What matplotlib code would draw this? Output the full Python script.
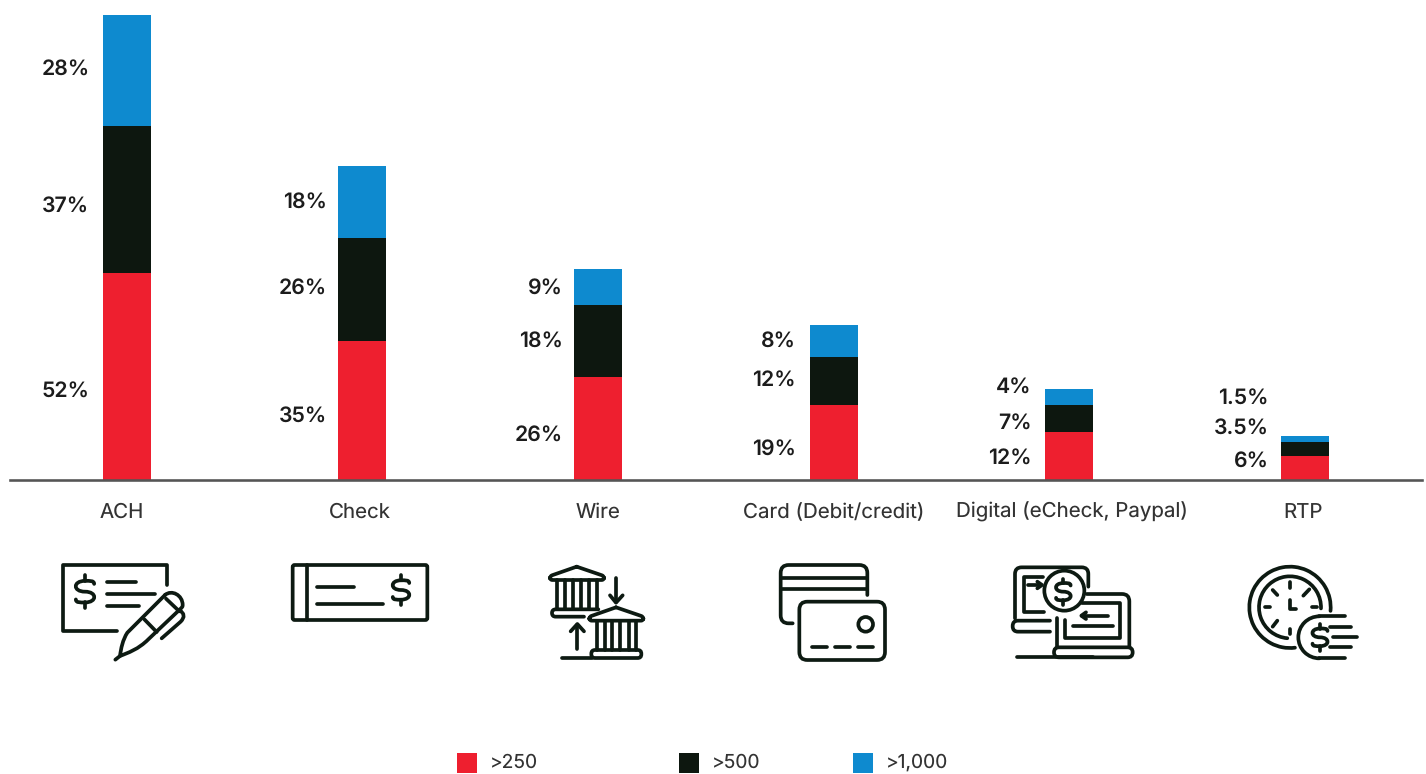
import numpy as np
import matplotlib
matplotlib.use("Agg")
import matplotlib.pyplot as plt
from matplotlib.path import Path
from matplotlib.patches import PathPatch, Circle, Arc, Rectangle, FancyBboxPatch
from matplotlib.transforms import ScaledTranslation

# ---------- data ----------
categories = ["ACH", "Check", "Wire", "Card (Debit/credit)", "Digital (eCheck, Paypal)", "RTP"]
series_names = [">250", ">500", ">1,000"]
vals_250 = [52, 35, 26, 19, 12, 6]
vals_500 = [37, 26, 18, 12, 7, 3.5]
vals_1000 = [28, 18, 9, 8, 4, 1.5]

# ---------- styles / layout ----------
W, H = 1426, 774
COL = ["#ee1f2f", "#0d170f", "#0e8acf"]
INK = "#0d1a12"
TXT = "#333333"
LBL_FONT = "Inter"
PX = 72 / 100
label_px_y = [[391.5, 206.5, 69.5], [416.5, 288.5, 202.5], [435.5, 341.5, 289.5],
              [450.5, 380.5, 341.5], [458.5, 423.5, 387.5], [461.5, 428.5, 398.5]]
label_px_right = [89.5, 327, 562.5, 795.5, 1031.5, 1268.5]
cat_dx_px = [-4.5, -2, 0, 0, 3, -1.5]

plt.rcParams["font.family"] = [LBL_FONT, "DejaVu Sans"]
plt.rcParams["text.hinting"] = "no_hinting"
fig = plt.figure(figsize=(W / 100, H / 100), dpi=100, facecolor="white")

# main axes: baseline at y=480 px, x from 10 to 1422
ax = fig.add_axes([10 / W, 1 - 480 / H, 1412 / W, 480 / H])
SCALE = 3.972
X0 = 126.7
DX = 235.6
ax.set_ylim(0, 480 / SCALE)
ax.set_xlim((10 - X0) / DX, (1422 - X0) / DX)
x = np.arange(len(categories))
BW = 48 / DX
bottom = np.zeros(len(x))
for vals, c in zip([vals_250, vals_500, vals_1000], COL):
    ax.bar(x, vals, BW, bottom=bottom, color=c, linewidth=0, zorder=2)
    bottom = bottom + np.array(vals)
for s in ("top", "left", "right"):
    ax.spines[s].set_visible(False)
ax.spines["bottom"].set_color("#555555")
ax.spines["bottom"].set_linewidth(2.6 * PX)
ax.spines["bottom"].set_zorder(3)
ax.set_yticks([])
ax.set_xticks(x, categories)
ax.tick_params(axis="x", length=0, pad=27.4, labelsize=14.75, labelcolor=TXT)
for lab, d in zip(ax.get_xticklabels(), cat_dx_px):
    lab.set_va("baseline")
    lab.set_transform(lab.get_transform() + ScaledTranslation(d / 100, 0, fig.dpi_scale_trans))

# overlay in pixel coordinates for annotations, icons and legend
ov = fig.add_axes([0, 0, 1, 1], facecolor="none")
ov.set_xlim(0, W)
ov.set_ylim(H, 0)
ov.axis("off")

all_vals = list(zip(vals_250, vals_500, vals_1000))
for vs, ys, xr in zip(all_vals, label_px_y, label_px_right):
    for v, yy in zip(vs, ys):
        ov.text(xr, yy, f"{v}%", ha="right", va="center", fontsize=15.3,
                fontweight="semibold", color="#1c1c1c")

LW = 3.7 * PX


class Icon:
    def __init__(self, ox, oy):
        self.ox, self.oy = ox, oy

    def t(self, p):
        return (self.ox + p[0] / 3, self.oy + p[1] / 3)

    def line(self, *pts, lw=LW):
        xs, ys = zip(*[self.t(p) for p in pts])
        ov.plot(xs, ys, color=INK, lw=lw, solid_capstyle="round",
                solid_joinstyle="round", zorder=5)

    def curve(self, verts, codes, lw=LW):
        pts = [self.t(v) for v in verts]
        ov.add_patch(PathPatch(Path(pts, codes), fill=False, ec=INK, lw=lw,
                               capstyle="round", joinstyle="round", zorder=5))

    def rpath(self, *pts, r=20):
        pts = [np.array(p, float) for p in pts]
        v = [pts[0]]
        c = [Path.MOVETO]
        for a, b, d in zip(pts[:-2], pts[1:-1], pts[2:]):
            u1 = (a - b) / np.linalg.norm(a - b)
            u2 = (d - b) / np.linalg.norm(d - b)
            v += [b + u1 * r, b, b + u2 * r]
            c += [Path.LINETO, Path.CURVE3, Path.CURVE3]
        v.append(pts[-1])
        c.append(Path.LINETO)
        self.curve(v, c)

    def rrect(self, x0, y0, x1, y1, r=15):
        p = self.t((x0, y0))
        ov.add_patch(FancyBboxPatch(p, (x1 - x0) / 3, (y1 - y0) / 3,
                                    boxstyle=f"round,pad=0,rounding_size={r / 3}",
                                    fill=False, ec=INK, lw=LW, zorder=5))

    def circle(self, cx, cy, r):
        ov.add_patch(Circle(self.t((cx, cy)), r / 3, fill=False, ec=INK, lw=LW, zorder=6))

    def arc(self, cx, cy, r, a0, a1):
        ov.add_patch(Arc(self.t((cx, cy)), 2 * r / 3, 2 * r / 3, theta1=a0, theta2=a1,
                         ec=INK, lw=LW, capstyle="round", zorder=5))

    def dollar(self, cx, cy, h):
        w = h * 0.28
        s = h * 0.33
        C4 = Path.CURVE4
        v = [(cx + w, cy - s * 0.72), (cx + w, cy - s * 1.05), (cx + w * .5, cy - s), (cx, cy - s),
             (cx - w * 1.35, cy - s), (cx - w * 1.35, cy), (cx, cy),
             (cx + w * 1.35, cy), (cx + w * 1.35, cy + s), (cx, cy + s),
             (cx - w * .5, cy + s), (cx - w, cy + s * 1.05), (cx - w, cy + s * 0.72)]
        self.curve(v, [Path.MOVETO] + [C4] * 12)
        self.line((cx, cy - h / 2), (cx, cy - s))
        self.line((cx, cy + s), (cx, cy + h / 2))


# icon 1: check and pen
a = Icon(40, 550)
a.line((380, 105), (380, 45), (68, 45), (68, 243), (232, 243))
a.dollar(135, 125, 98)
a.line((200, 95), (288, 95))
a.line((200, 132), (345, 132))
a.line((200, 168), (298, 168))
C4 = Path.CURVE4
a.curve([(375, 135), (395, 118), (428, 135), (428, 165), (428, 172), (425, 172), (423, 175),
         (325, 268), (295, 298), (265, 308), (240, 318),
         (243, 295), (248, 270), (262, 248), (375, 135)],
        [Path.MOVETO, C4, C4, C4, C4, C4, C4, Path.LINETO, C4, C4, C4, C4, C4, C4, Path.LINETO])
a.line((240, 318), (226, 329))
a.line((378, 146), (418, 184))
a.line((313, 208), (350, 246))
a.curve([(418, 180), (442, 195), (422, 215), (365, 265)],
        [Path.MOVETO, Path.CURVE3, Path.CURVE3, Path.LINETO])

# icon 2: check
a = Icon(40, 550)
a.rrect(758, 45, 1162, 210, r=6)
a.line((802, 45), (802, 210))
a.line((832, 112), (942, 112))
a.line((832, 163), (1028, 163))
a.dollar(1083, 120, 88)


# icon 3: banks
def bank(ic, dx, dy):
    ic.rpath((140 + dx, 50 + dy), (222 + dx, 78 + dy), (222 + dx, 90 + dy), (60 + dx, 90 + dy),
             (60 + dx, 78 + dy), (140 + dx, 50 + dy), r=7)
    for cx in (82, 106, 129, 153, 178, 200):
        ic.line((cx + dx, 90 + dy), (cx + dx, 178 + dy))


a = Icon(530, 550)
bank(a, 0, 0)
a.rpath((205, 178), (66, 178), (66, 200), (162, 200), r=11)
bank(a, 118, 122)
a.rrect(184, 300, 334, 324, r=11)
a.line((258, 85), (258, 156))
a.line((240, 136), (258, 158), (278, 136))
a.line((142, 226), (142, 296))
a.line((122, 244), (142, 222), (162, 244))
a.line((96, 324), (185, 324))

# icon 4: cards
a = Icon(530, 550)
a.rpath((1012, 135), (1012, 45), (752, 45), (752, 220), (788, 220), r=24)
a.line((752, 85), (1012, 85))
a.line((752, 118), (1012, 118))
a.rrect(808, 155, 1065, 330, r=24)
a.circle(1007, 223, 22)
for d0, d1 in ((845, 890), (915, 960), (985, 1030)):
    a.line((d0, 290), (d1, 290))

# icon 5: laptops
a = Icon(1000, 550)
a.rpath((45, 205), (45, 52), (265, 52), (265, 110), r=20)
a.line((130, 80), (72, 80), (72, 185), (132, 185))
a.line((85, 105), (122, 105))
a.line((112, 95), (126, 105), (112, 115))
a.rpath((150, 212), (38, 212), (38, 245), (150, 245), r=16)
a.line((172, 205), (172, 292))
a.rpath((260, 132), (388, 132), (388, 292), r=22)
a.line((245, 160), (360, 160), (360, 265), (195, 265), (195, 210))
a.line((325, 197), (245, 197))
a.line((258, 187), (244, 197), (258, 207))
a.line((218, 228), (338, 228))
a.rrect(162, 292, 398, 322, r=15)
a.line((52, 322), (280, 322))
a.circle(193, 122, 60)
a.dollar(190, 125, 78)

# icon 6: clock and coin
a = Icon(1000, 550)
a.arc(870, 172, 122, 83, 365)
a.arc(870, 172, 93, 95, 362)
a.line((870, 97), (870, 115))
a.line((935, 172), (950, 172))
a.line((795, 172), (810, 172))
a.line((870, 238), (870, 252))
a.line((910, 137), (928, 118))
a.line((818, 120), (832, 135))
a.line((818, 230), (832, 212))
a.line((870, 150), (870, 177), (888, 177))
a.arc(958, 262, 63, 90, 270)
a.line((958, 199), (1035, 199))
a.line((958, 325), (1035, 325))
a.line((990, 230), (1052, 230))
a.line((998, 262), (1072, 262))
a.line((990, 292), (1052, 292))
a.dollar(960, 262, 80)

# legend
leg_x = [457, 679, 853]
for name, c, lx in zip(series_names, COL, leg_x):
    ov.add_patch(Rectangle((lx, 753), 20, 20, fc=c, ec="none"))
    ov.text(lx + 33, 762.5, name, ha="left", va="center", fontsize=13.8, color=TXT)

fig.savefig("out.png", dpi=100)
